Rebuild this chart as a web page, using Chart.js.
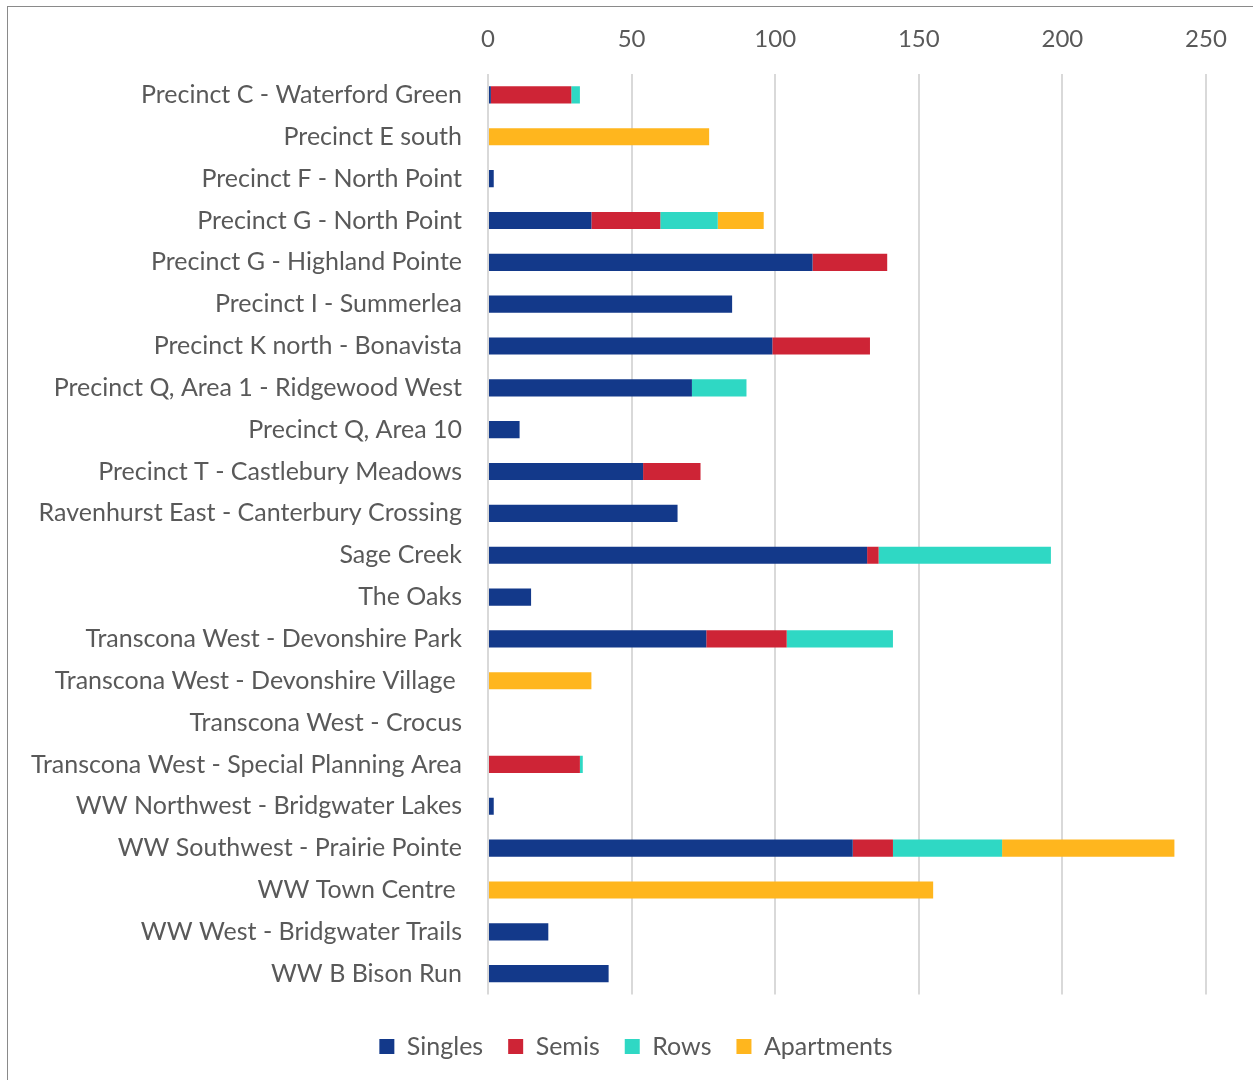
<!DOCTYPE html>
<html>
<head>
<meta charset="utf-8">
<script src="https://cdn.jsdelivr.net/npm/chart.js@4/dist/chart.umd.min.js"></script>
<style>
  html, body { margin: 0; padding: 0; background: #fff; overflow: hidden; }
  #frame { position: absolute; left: 7px; top: 6px; width: 1300px; height: 1100px; border: 1px solid #8a8a8a; box-sizing: border-box; }
  #wrap { position: absolute; left: 0; top: 0; width: 1253px; height: 1080px; }
</style>
</head>
<body>
<div id="frame"></div>
<div id="wrap"><canvas id="housing"></canvas></div>
<script>
var areas = [
    "Precinct C - Waterford Green",
    "Precinct E south",
    "Precinct F - North Point",
    "Precinct G - North Point",
    "Precinct G - Highland Pointe",
    "Precinct I - Summerlea",
    "Precinct K north - Bonavista",
    "Precinct Q, Area 1 - Ridgewood West",
    "Precinct Q, Area 10",
    "Precinct T - Castlebury Meadows",
    "Ravenhurst East - Canterbury Crossing",
    "Sage Creek",
    "The Oaks",
    "Transcona West - Devonshire Park",
    "Transcona West - Devonshire Village ",
    "Transcona West - Crocus",
    "Transcona West - Special Planning Area",
    "WW Northwest - Bridgwater Lakes",
    "WW Southwest - Prairie Pointe",
    "WW Town Centre ",
    "WW West - Bridgwater Trails",
    "WW B Bison Run"
];

var singles    = [1, 0, 2, 36, 113, 85, 99, 71, 11, 54, 66, 132, 15, 76, 0, 0, 0, 2, 127, 0, 21, 42];
var semis      = [28, 0, 0, 24, 26, 0, 34, 0, 0, 20, 0, 4, 0, 28, 0, 0, 32, 0, 14, 0, 0, 0];
var rows       = [3, 0, 0, 20, 0, 0, 0, 19, 0, 0, 0, 60, 0, 37, 0, 0, 1, 0, 38, 0, 0, 0];
var apartments = [0, 77, 0, 16, 0, 0, 0, 0, 0, 0, 0, 0, 0, 0, 36, 0, 0, 0, 60, 155, 0, 0];

var xTicks = [0, 50, 100, 150, 200, 250];

var textColor = "#595959";
var fontFamily = "Lato, 'Open Sans', sans-serif";

// legend sits centred under the whole frame, not under the plot
var legendShift = {
    id: "legendShift",
    afterLayout: function(chart) {
        chart.legend.left += 33;
        chart.legend.right += 33;
    }
};

var housingChart = new Chart(document.getElementById("housing"), {
    "type": "bar",
    "data": {
        "labels": areas,
        "datasets": [
            { "label": "Singles", "data": singles, "backgroundColor": "#13398a" },
            { "label": "Semis", "data": semis, "backgroundColor": "#ce2436" },
            { "label": "Rows", "data": rows, "backgroundColor": "#2fd8c4" },
            { "label": "Apartments", "data": apartments, "backgroundColor": "#ffb61e" }
        ]
    },
    "options": {
        "indexAxis": "y",
        "responsive": true,
        "maintainAspectRatio": false,
        "animation": false,
        "categoryPercentage": 1,
        "barPercentage": 0.41,
        "layout": { "padding": { "left": 0, "right": 47, "top": 0, "bottom": 11 } },
        "scales": {
            "x": {
                "position": "top",
                "stacked": true,
                "min": 0,
                "max": 250,
                "afterBuildTicks": function(scale) {
                    scale.ticks = xTicks.map(function(v) { return { value: v }; });
                },
                "afterFit": function(scale) { scale.height = 74; },
                "border": { "display": false },
                "grid": { "color": "#d9d9d9", "lineWidth": 2, "drawTicks": false },
                "ticks": { "color": textColor, "padding": 20, "font": { "family": fontFamily, "size": 24 } }
            },
            "y": {
                "stacked": true,
                "afterFit": function(scale) { scale.width = 488; },
                "border": { "display": false },
                "grid": { "display": false, "drawTicks": false },
                "ticks": { "color": textColor, "padding": 26, "autoSkip": false, "font": { "family": fontFamily, "size": 25 } }
            }
        },
        "plugins": {
            "legend": {
                "position": "bottom",
                "title": { "display": true, "text": "", "padding": { "top": 12, "bottom": 0 }, "font": { "size": 2 } },
                "labels": {
                    "color": textColor,
                    "boxWidth": 15,
                    "boxHeight": 15,
                    "padding": 25,
                    "font": { "family": fontFamily, "size": 25 }
                }
            },
            "tooltip": { "enabled": false }
        }
    },
    "plugins": [legendShift]
});
</script>
</body>
</html>
